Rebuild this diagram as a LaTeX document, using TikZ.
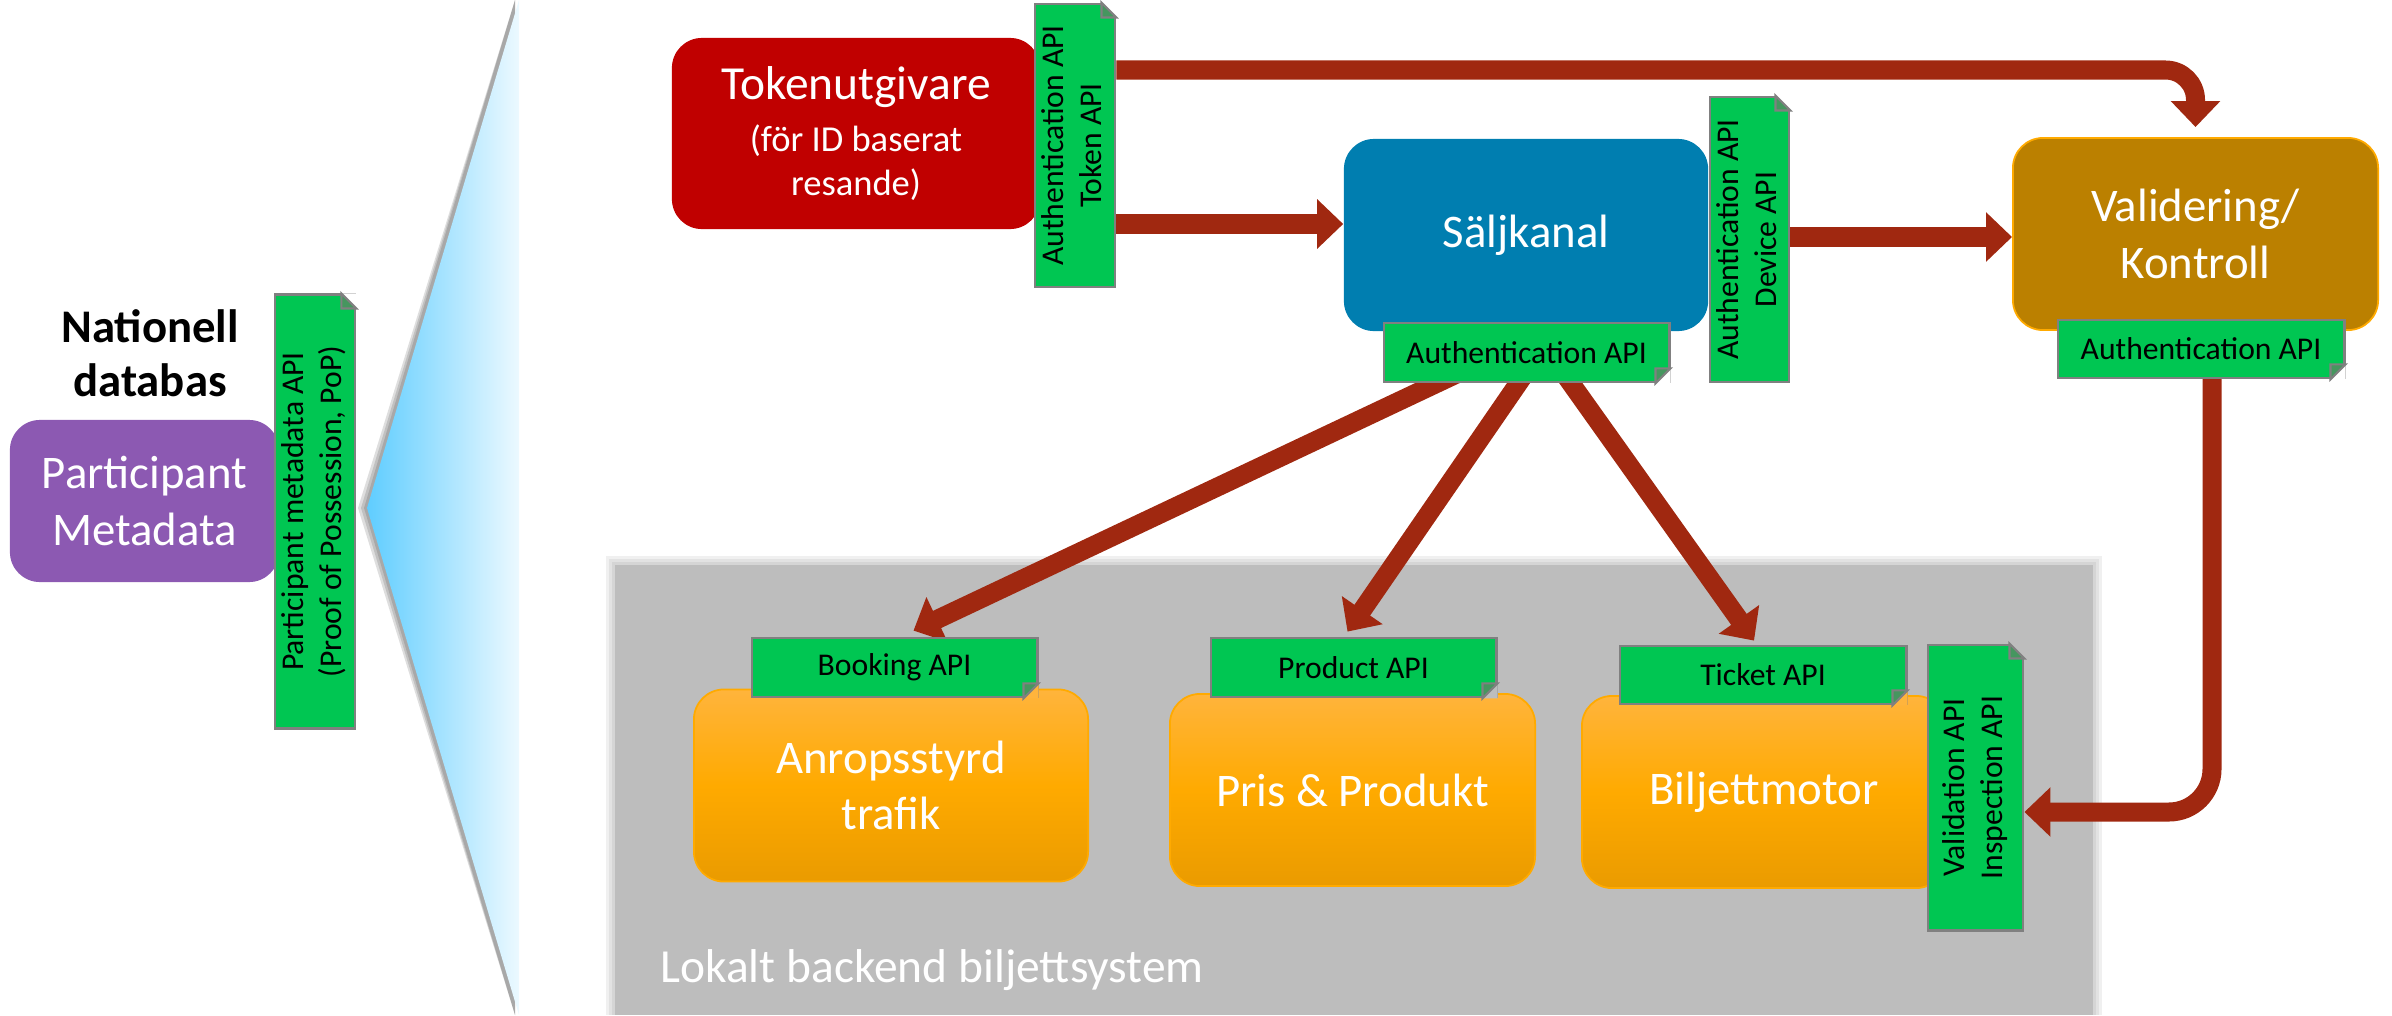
\documentclass[tikz,border=0pt]{standalone}
\usepackage{fontspec}
\setmainfont{Carlito}
\usepackage{graphicx}
\usetikzlibrary{arrows.meta,calc}

\definecolor{tokenred}{RGB}{192,0,0}
\definecolor{saljblue}{RGB}{0,126,176}
\definecolor{validbrown}{RGB}{187,128,0}
\definecolor{metapurple}{RGB}{140,89,178}
\definecolor{apigreen}{RGB}{0,198,82}
\definecolor{foldgreen}{RGB}{70,150,95}
\definecolor{apigray}{RGB}{128,128,128}
\definecolor{flowred}{RGB}{160,40,16}
\definecolor{backgray}{RGB}{189,189,189}
\definecolor{orangetop}{RGB}{255,180,60}
\definecolor{orangemid}{RGB}{255,170,0}
\definecolor{orangebot}{RGB}{234,155,0}
\definecolor{wedgedeep}{RGB}{95,205,255}
\definecolor{wedgepale}{RGB}{236,249,255}

\newcommand{\bigfont}{\fontsize{13.3}{16}\selectfont}
\newcommand{\smallfont}{\fontsize{10.4}{12.5}\selectfont}
\newcommand{\tagfont}{\fontsize{9}{10.8}\selectfont}
\newcommand{\uptext}[1]{\rotatebox{90}{\begin{tabular}{@{}c@{}}#1\end{tabular}}}
% folded corner: corner point, vertical sense, colour behind
\newcommand{\apifold}[3]{%
  \fill[#3] (#1) -- ++(-15,0) -- ++(15,#2) -- cycle;
  \filldraw[fill=foldgreen, draw=apigray, line width=0.6pt] ($(#1)+(-15,0)$) -- ($(#1)+(0,#2)$) -- ($(#1)+(-15,#2)$) -- cycle;}

\pgfdeclarelayer{back}
\pgfdeclarelayer{flows}
\pgfsetlayers{back,flows,main}

\begin{document}
\begin{tikzpicture}[x=0.01cm, y=-0.01cm,
    box/.style={rounded corners=0.3cm, text=white, font=\bigfont, align=center, inner sep=0pt},
    backbox/.style={box, draw=orangemid, line width=0.5pt, top color=orangetop, bottom color=orangebot, middle color=orangemid, minimum height=1.92cm},
    api/.style={fill=apigreen, draw=apigray, line width=0.8pt, font=\tagfont, inner sep=0pt},
    flow/.style={draw=flowred, line width=0.19cm, -{Triangle[width=0.48cm,length=0.26cm]}},
    haze/.style={black, opacity=0.06}]
    \useasboundingbox (0,0) rectangle (2392,1015);

    % backdrop and wedge, with soft shadows
    \begin{pgfonlayer}{back}
    \foreach \d in {3,6,9} {
      \fill[haze] (615-\d,565-\d) rectangle (2093+\d,1015);
      \fill[haze, opacity=0.13] (515,0) -- (367-\d,508) -- (515,1015) -- cycle;
    }
    \fill[backgray] (615,565) rectangle (2093,1015);
    \shade[left color=wedgedeep, right color=wedgepale] (519,0) -- (367,508) -- (519,1015) -- cycle;
    \end{pgfonlayer}
    \node[anchor=west, text=white, font=\fontsize{13.5}{16}\selectfont] (lokalt) at (648,970) {Lokalt backend biljettsystem};

    % national database
    \node[font=\fontsize{13.3}{15.5}\selectfont\bfseries, align=center] (natdb) at (150,353) {Nationell\\databas};
    \node[box, fill=metapurple, minimum width=2.69cm, minimum height=1.62cm] (meta) at (144.5,501) {Participant\\Metadata};
    \node[api, minimum width=0.8cm, minimum height=4.33cm] (metaapi) at (315,511.5) {\uptext{Participant metadata API\\(Proof of Possession, PoP)}};
    \apifold{metaapi.north east}{15}{white}

    % top row
    \node[box, fill=tokenred, font=\smallfont, minimum width=3.68cm, minimum height=1.91cm] (token) at (856,133.5) {{\fontsize{13.5}{16}\selectfont Tokenutgivare}\\[2.5pt](för ID baserat\\resande)};
    \node[api, minimum width=0.8cm, minimum height=2.83cm] (tokenapi) at (1075,145.5) {\uptext{Authentication API\\Token API}};
    \apifold{tokenapi.north east}{15}{white}

    \node[box, fill=saljblue, minimum width=3.64cm, minimum height=1.92cm] (salj) at (1526,235) {Säljkanal};
    \node[api, minimum width=2.85cm, minimum height=0.59cm] (saljauth) at (1526.5,352.5) {Authentication API};
    \apifold{saljauth.south east}{-15}{white}
    \node[api, minimum width=0.79cm, minimum height=2.85cm] (saljdev) at (1749.5,239.5) {\uptext{Authentication API\\Device API}};
    \apifold{saljdev.north east}{15}{white}

    \node[box, fill=validbrown, draw=orangemid, line width=0.5pt, minimum width=3.65cm, minimum height=1.92cm] (valid) at (2195.5,234) {Validering/\\Kontroll};
    \node[api, minimum width=2.86cm, minimum height=0.58cm] (validauth) at (2201,349) {Authentication API};
    \apifold{validauth.south east}{-15}{white}

    % local backend
    \node[backbox, minimum width=3.94cm] (anrop) at (891,785.5) {Anropsstyrd\\trafik};
    \node[api, minimum width=2.85cm, minimum height=0.59cm] (booking) at (894.5,667.5) {Booking API};
    \apifold{booking.south east}{-15}{orangetop}
    \node[backbox, minimum width=3.65cm] (pris) at (1352.5,790) {Pris \& Produkt};
    \node[api, minimum width=2.85cm, minimum height=0.59cm] (product) at (1353.5,667.5) {Product API};
    \apifold{product.south east}{-15}{backgray}
    \node[backbox, minimum width=3.64cm] (biljett) at (1764,792) {Biljettmotor};
    \node[api, minimum width=2.86cm, minimum height=0.58cm] (ticket) at (1763,675) {Ticket API};
    \apifold{ticket.south east}{-15}{orangetop}
    \node[api, minimum width=0.95cm, minimum height=2.85cm] (valtag) at (1975.5,787.5) {\uptext{Validation API\\Inspection API}};
    \apifold{valtag.north east}{15}{backgray}

    % flows
    \begin{pgfonlayer}{flows}
    \draw[flow, rounded corners=0.3cm] (tokenapi.east |- 0,70) -| ([yshift=0.1cm]valid.north);
    \draw[flow] (tokenapi.east |- 0,224) -- (salj.west |- 0,224);
    \draw[flow] (saljdev.east |- 0,237) -- (valid.west |- 0,237);
    \draw[flow] ($(saljauth.south)+(-64.5,-12)$) -- ($(booking.north)+(19,-6)$);
    \draw[flow] ($(saljauth.south)+(0,-12)$) -- ($(product.north)+(-6,-5)$);
    \draw[flow] ($(saljauth.south)+(36,-12)$) -- ($(ticket.north)+(-9,-4)$);
    \draw[flow, rounded corners=0.43cm] ($(validauth.south)+(11,-10)$) |- (valtag.east |- 0,812);
    \end{pgfonlayer}
\end{tikzpicture}
\end{document}
